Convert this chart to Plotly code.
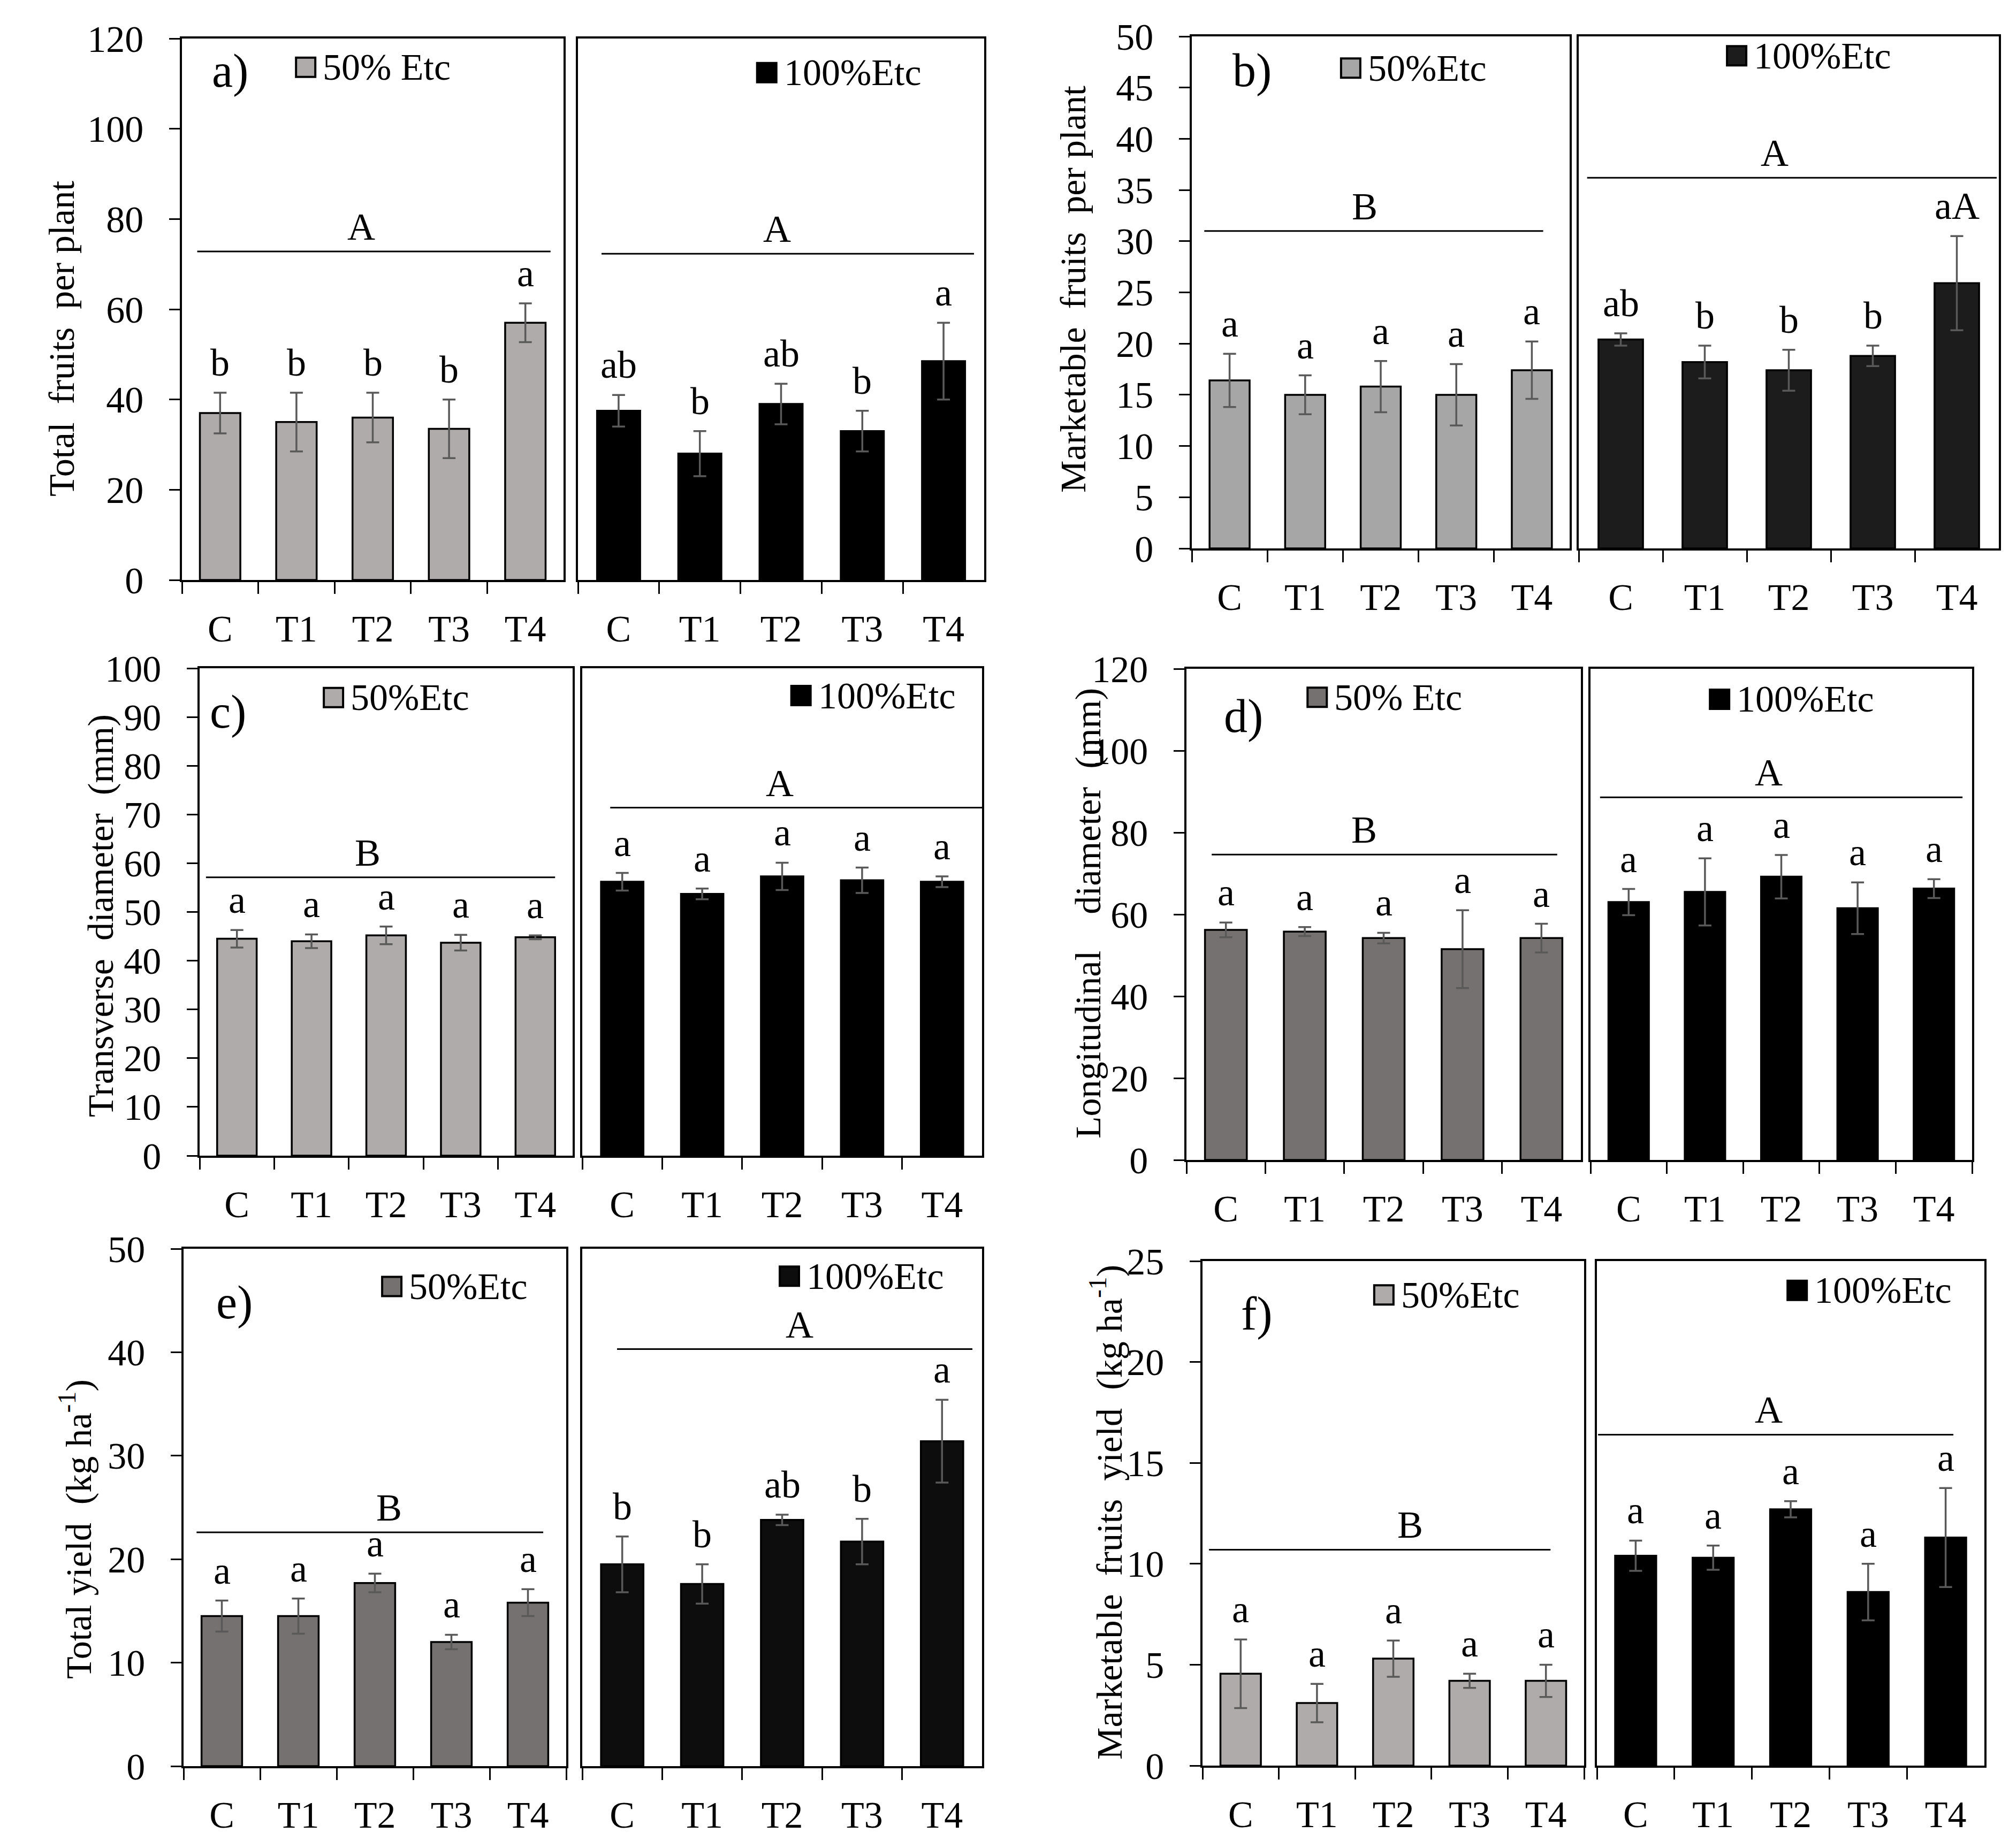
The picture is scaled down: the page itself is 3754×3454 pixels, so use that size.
import plotly.graph_objects as go

# Figure size of the reference picture
W, H = 3754, 3454
FONT = "Liberation Serif"

treatments = ["C", "T1", "T2", "T3", "T4"]

# a) Total fruits per plant
a_50 = [37, 35, 36, 33.5, 57]
a_50_err = [4.5, 6.5, 5.5, 6.5, 4.3]
a_100 = [37.5, 28, 39, 33, 48.5]
a_100_err = [3.5, 5, 4.5, 4.5, 8.5]
a_50_letters = ["b", "b", "b", "b", "a"]
a_100_letters = ["ab", "b", "ab", "b", "a"]

# b) Marketable fruits per plant
b_50 = [16.4, 15, 15.8, 15, 17.4]
b_50_err = [2.6, 1.9, 2.5, 3, 2.8]
b_100 = [20.4, 18.2, 17.4, 18.8, 25.9]
b_100_err = [0.6, 1.6, 2, 1, 4.6]
b_50_letters = ["a", "a", "a", "a", "a"]
b_100_letters = ["ab", "b", "b", "b", "aA"]

# c) Transverse diameter (mm)
c_50 = [44.5, 44, 45.2, 43.7, 44.8]
c_50_err = [1.8, 1.4, 1.8, 1.6, 0.4]
c_100 = [56.2, 53.7, 57.3, 56.5, 56.2]
c_100_err = [1.8, 1.1, 2.8, 2.6, 1.1]
c_50_letters = ["a", "a", "a", "a", "a"]
c_100_letters = ["a", "a", "a", "a", "a"]

# d) Longitudinal diameter (mm)
d_50 = [56.2, 55.8, 54.2, 51.5, 54.2]
d_50_err = [1.8, 1.1, 1.3, 9.5, 3.5]
d_100 = [63, 65.5, 69.2, 61.5, 66.3]
d_100_err = [3.2, 8.2, 5.3, 6.3, 2.3]
d_50_letters = ["a", "a", "a", "a", "a"]
d_100_letters = ["a", "a", "a", "a", "a"]

# e) Total yield (kg ha-1)
e_50 = [14.5, 14.5, 17.7, 12, 15.8]
e_50_err = [1.5, 1.7, 0.9, 0.7, 1.3]
e_100 = [19.5, 17.6, 23.8, 21.7, 31.4]
e_100_err = [2.7, 1.9, 0.5, 2.2, 4]
e_50_letters = ["a", "a", "a", "a", "a"]
e_100_letters = ["b", "b", "ab", "b", "a"]

# f) Marketable fruits yield (kg ha-1)
f_50 = [4.55, 3.1, 5.3, 4.2, 4.2]
f_50_err = [1.7, 0.95, 0.9, 0.35, 0.8]
f_100 = [10.4, 10.3, 12.7, 8.6, 11.3]
f_100_err = [0.75, 0.6, 0.4, 1.4, 2.45]
f_50_letters = ["a", "a", "a", "a", "a"]
f_100_letters = ["a", "a", "a", "a", "a"]

# group separation lines (value) and their letters: [50%, 100%]
group_values = {"a": [72.8, 72.3], "b": [31, 36.2], "c": [57.1, 71.4],
                "d": [74.6, 88.6], "e": [22.6, 40.3], "f": [10.7, 16.4]}
group_letters = {"a": ["A", "A"], "b": ["B", "A"], "c": ["B", "A"],
                 "d": ["B", "A"], "e": ["B", "A"], "f": ["B", "A"]}

y_titles = {
    "a": "Total  fruits  per plant",
    "b": "Marketable  fruits  per plant",
    "c": "Transverse  diameter  (mm)",
    "d": "Longitudinal    diameter  (mm)",
    "e": "Total yield  (kg ha<sup>-1</sup>)",
    "f": "Marketable  fruits  yield  (kg ha<sup>-1</sup>)",
}
y_ranges = {"a": (120, 20), "b": (50, 5), "c": (100, 10),
            "d": (120, 20), "e": (50, 10), "f": (25, 5)}
legend_labels = {"a": ["50% Etc", "100%Etc"], "b": ["50%Etc", "100%Etc"],
                 "c": ["50%Etc", "100%Etc"], "d": ["50% Etc", "100%Etc"],
                 "e": ["50%Etc", "100%Etc"], "f": ["50%Etc", "100%Etc"]}

series = {
    "a": [(a_50, a_50_err, a_50_letters), (a_100, a_100_err, a_100_letters)],
    "b": [(b_50, b_50_err, b_50_letters), (b_100, b_100_err, b_100_letters)],
    "c": [(c_50, c_50_err, c_50_letters), (c_100, c_100_err, c_100_letters)],
    "d": [(d_50, d_50_err, d_50_letters), (d_100, d_100_err, d_100_letters)],
    "e": [(e_50, e_50_err, e_50_letters), (e_100, e_100_err, e_100_letters)],
    "f": [(f_50, f_50_err, f_50_letters), (f_100, f_100_err, f_100_letters)],
}

# layout of each panel in pixels: left box, right box, (top, bottom), y title pos,
# bar colours, panel label pos, legend pos, group line extent, group label x
geometry = {
    "a": dict(L=(332, 1045), R=(1072, 1831), Y=(64, 1076), title=(107, 625),
              colors=["#afabab", "#000000"], tag=(0.126, 0.94),
              leg=[(0.299, 0.947), (0.441, 0.937)],
              gl=[(0.04, 0.966), (0.058, 0.975)], glx=[0.47, 0.49]),
    "b": dict(L=(2219, 2925), R=(2942, 3727), Y=(60, 1017), title=(1997, 533),
              colors=["#a6a6a6", "#1c1c1c"], tag=(0.16, 0.934),
              leg=[(0.395, 0.938), (0.353, 0.962)],
              gl=[(0.033, 0.93), (0.02, 0.995)], glx=[0.457, 0.466]),
    "c": dict(L=(365, 1062), R=(1080, 1827), Y=(1241, 2152), title=(180, 1704),
              colors=["#afabab", "#000000"], tag=(0.076, 0.91),
              leg=[(0.333, 0.94), (0.523, 0.944)],
              gl=[(0.017, 0.953), (0.07, 1.0)], glx=[0.45, 0.494]),
    "d": dict(L=(2209, 2946), R=(2964, 3677), Y=(1242, 2160), title=(2025, 1699),
              colors=["#767171", "#000000"], tag=(0.144, 0.904),
              leg=[(0.307, 0.942), (0.313, 0.938)],
              gl=[(0.064, 0.94), (0.025, 0.975)], glx=[0.45, 0.467]),
    "e": dict(L=(335, 1050), R=(1080, 1827), Y=(2326, 3293), title=(134, 2850),
              colors=["#767171", "#0d0d0d"], tag=(0.133, 0.896),
              leg=[(0.519, 0.927), (0.494, 0.947)],
              gl=[(0.034, 0.94), (0.087, 0.976)], glx=[0.537, 0.543]),
    "f": dict(L=(2239, 2952), R=(2976, 3700), Y=(2349, 3292), title=(2060, 2819),
              colors=["#afabab", "#000000"], tag=(0.143, 0.896),
              leg=[(0.45, 0.933), (0.492, 0.942)],
              gl=[(0.017, 0.912), (0.003, 0.92)], glx=[0.544, 0.443]),
}

fig = go.Figure()
annotations = []
shapes = []
axes = {}

n = 0
for key in ["a", "b", "c", "d", "e", "f"]:
    g = geometry[key]
    top, bottom = g["Y"]
    ymax, dtick = y_ranges[key]
    for side in (0, 1):
        n += 1
        xa = "x" if n == 1 else f"x{n}"
        ya = "y" if n == 1 else f"y{n}"
        vals, errs, letters = series[key][side]
        color = g["colors"][side]
        x0, x1 = g["L"] if side == 0 else g["R"]

        fig.add_trace(go.Bar(
            x=treatments, y=vals, xaxis=xa, yaxis=ya, showlegend=False,
            marker=dict(color=color, line=dict(color="black", width=3.5)),
            error_y=dict(type="data", array=errs, color="#595959",
                         thickness=3.5, width=12),
        ))

        axes[f"xaxis{'' if n == 1 else n}"] = dict(
            domain=[x0 / W, x1 / W], anchor=ya, type="category",
            automargin=False,
            showline=True, linecolor="black", linewidth=3.5, mirror=True,
            ticks="outside", tickson="boundaries", ticklen=22, tickwidth=3,
            tickcolor="black", ticklabelstandoff=27, showgrid=False,
            tickfont=dict(family=FONT, size=70, color="black"),
            fixedrange=True,
        )
        yax = dict(
            domain=[1 - bottom / H, 1 - top / H], anchor=xa,
            automargin=False,
            range=[0, ymax], dtick=dtick, showgrid=False, zeroline=False,
            showline=True, linecolor="black", linewidth=3.5, mirror=True,
            tickfont=dict(family=FONT, size=70, color="black"),
        )
        if side == 0:
            yax.update(ticks="outside", ticklen=20, tickwidth=3,
                       tickcolor="black", ticklabelstandoff=34)
        else:
            yax.update(showticklabels=False, ticks="")
        axes[f"yaxis{'' if n == 1 else n}"] = yax

        # significance letters above the error bars
        for t, v, e, lt in zip(treatments, vals, errs, letters):
            annotations.append(dict(
                x=t, y=v + e, xref=xa, yref=ya, text=lt, showarrow=False,
                yanchor="bottom", yshift=14,
                font=dict(family=FONT, size=72, color="black"),
            ))

        # group line with its letter
        gx0, gx1 = g["gl"][side]
        gv = group_values[key][side]
        shapes.append(dict(type="line", xref=f"{xa} domain", yref=ya,
                           x0=gx0, x1=gx1, y0=gv, y1=gv,
                           line=dict(color="black", width=3)))
        annotations.append(dict(
            x=g["glx"][side], y=gv, xref=f"{xa} domain", yref=ya,
            text=group_letters[key][side], showarrow=False,
            yanchor="bottom", yshift=4,
            font=dict(family=FONT, size=72, color="black"),
        ))

        # legend entry: square and text
        lx, ly = g["leg"][side]
        shapes.append(dict(
            type="rect", xref=f"{xa} domain", yref=f"{ya} domain",
            xsizemode="pixel", ysizemode="pixel", xanchor=lx, yanchor=ly,
            x0=0, x1=36, y0=-18, y1=18,
            fillcolor=color, line=dict(color="black", width=4),
        ))
        annotations.append(dict(
            x=lx, y=ly, xref=f"{xa} domain", yref=f"{ya} domain",
            text=legend_labels[key][side], showarrow=False,
            xanchor="left", yanchor="middle", xshift=48,
            font=dict(family=FONT, size=70, color="black"),
        ))

        if side == 0:
            tx, ty = g["tag"]
            annotations.append(dict(
                x=tx, y=ty, xref=f"{xa} domain", yref=f"{ya} domain",
                text=f"{key})", showarrow=False,
                xanchor="center", yanchor="middle",
                font=dict(family=FONT, size=88, color="black"),
            ))
            # y axis title
            cx, cy = g["title"]
            annotations.append(dict(
                x=cx / W, y=1 - cy / H, xref="paper", yref="paper",
                text=y_titles[key], showarrow=False, textangle=-90,
                xanchor="center", yanchor="middle",
                font=dict(family=FONT, size=68, color="black"),
            ))

fig.update_layout(
    width=W, height=H,
    margin=dict(l=0, r=0, t=0, b=0),
    paper_bgcolor="white", plot_bgcolor="white",
    bargap=0.47,
    annotations=annotations, shapes=shapes,
    font=dict(family=FONT, color="black"),
    **axes,
)

fig.write_html("out.html")
